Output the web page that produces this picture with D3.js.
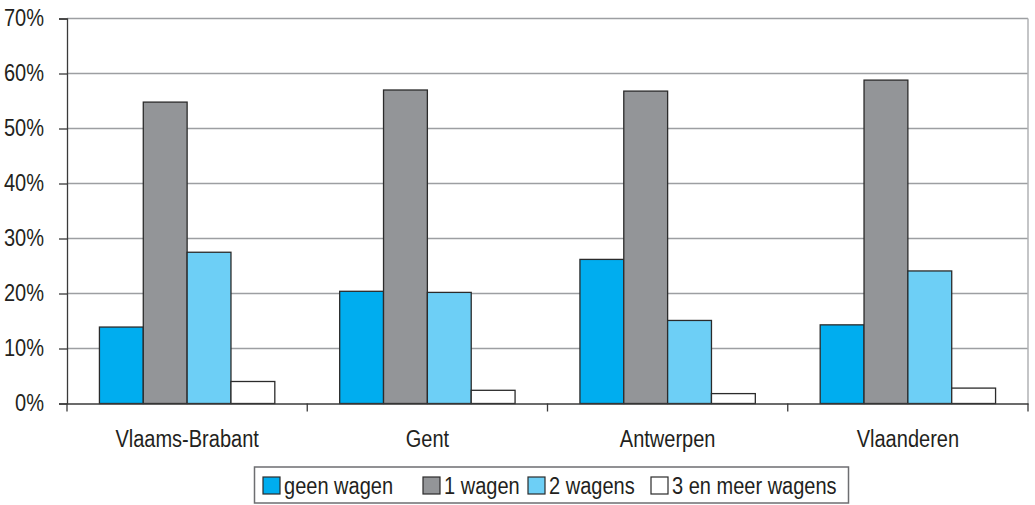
<!DOCTYPE html>
<html>
<head>
<meta charset="utf-8">
<script src="https://cdn.jsdelivr.net/npm/d3@7"></script>
<style>
  html, body { margin: 0; padding: 0; background: #fff; }
  svg { display: block; }
  text { font-family: 'Liberation Sans', Arial, sans-serif; fill: #231f20; }
</style>
</head>
<body>
<svg id="chart" width="1035" height="505"></svg>
<script>
const categories = ["Vlaams-Brabant", "Gent", "Antwerpen", "Vlaanderen"];
const seriesNames = ["geen wagen", "1 wagen", "2 wagens", "3 en meer wagens"];
const geenWagen = [13.9, 20.4, 26.2, 14.3];
const eenWagen = [54.8, 57.0, 56.8, 58.8];
const tweeWagens = [27.5, 20.2, 15.1, 24.1];
const drieMeer = [4.0, 2.4, 1.8, 2.8];
const seriesValues = [geenWagen, eenWagen, tweeWagens, drieMeer];
const colors = ["#00adef", "#939598", "#6dcff6", "#ffffff"];
const yTicks = [0, 10, 20, 30, 40, 50, 60, 70];

(function () {
const svg = d3.select("#chart");
const mLeft = 67, mRight = 1028, mTop = 18.5, mBottom = 403.5;
const narrow = 0.87;

function condense(sel) {
  sel.each(function () {
    const w = this.getComputedTextLength();
    d3.select(this).attr("textLength", w * narrow).attr("lengthAdjust", "spacingAndGlyphs");
  });
}

const x0 = d3.scaleBand().domain(categories).range([mLeft, mRight]).paddingInner(0).paddingOuter(0);
const bw = x0.bandwidth();
const x1 = d3.scaleBand().domain(seriesNames).range([bw * 0.135, bw * 0.865]).padding(0);
const y = d3.scaleLinear().domain([0, 70]).range([mBottom, mTop]);

// gridlines
svg.append("g").selectAll("line").data(yTicks.filter(d => d > 0)).join("line")
  .attr("x1", mLeft).attr("x2", mRight)
  .attr("y1", d => y(d)).attr("y2", d => y(d))
  .attr("stroke", "#9d9fa2").attr("stroke-width", 1.3);

// right border
svg.append("line").attr("x1", mRight).attr("x2", mRight).attr("y1", mTop).attr("y2", mBottom)
  .attr("stroke", "#b0b2b4").attr("stroke-width", 1.5);

// bars
const data = [];
categories.forEach((c, i) => seriesNames.forEach((s, j) => data.push({c, s, v: seriesValues[j][i], col: colors[j]})));
svg.append("g").selectAll("rect").data(data).join("rect")
  .attr("x", d => x0(d.c) + x1(d.s))
  .attr("width", x1.bandwidth())
  .attr("y", d => y(d.v))
  .attr("height", d => y(0) - y(d.v))
  .attr("fill", d => d.col)
  .attr("stroke", "#2b2b2b").attr("stroke-width", 1.3);

// y axis
const yAxis = d3.axisLeft(y).tickValues(yTicks).tickFormat(d => d + "%").tickSize(8).tickPadding(15);
const gy = svg.append("g").attr("transform", `translate(${mLeft},0)`).call(yAxis);
gy.attr("font-family", null).attr("font-size", null);
gy.select(".domain").attr("stroke", "#3a3a3a").attr("stroke-width", 1.3);
gy.selectAll(".tick line").attr("stroke", "#3a3a3a").attr("stroke-width", 1.3);
gy.selectAll(".tick text").attr("font-size", 23).attr("fill", "#231f20").call(condense);

// x axis
const xAxis = d3.axisBottom(x0).tickSize(0).tickPadding(0);
const gx = svg.append("g").attr("transform", `translate(0,${mBottom})`).call(xAxis);
gx.attr("font-family", null).attr("font-size", null);
gx.select(".domain").attr("stroke", "#3a3a3a").attr("stroke-width", 1.3);
gx.selectAll(".tick text").attr("font-size", 23).attr("fill", "#231f20").attr("y", 43).attr("dy", null).call(condense);
// boundary ticks
const bounds = categories.map(c => x0(c)).concat([mRight]);
gx.append("g").selectAll("line").data(bounds).join("line")
  .attr("x1", d => d).attr("x2", d => d).attr("y1", 0).attr("y2", 8)
  .attr("stroke", "#3a3a3a").attr("stroke-width", 1.3);

// legend
const lg = svg.append("g");
lg.append("rect").attr("x", 254.5).attr("y", 467).attr("width", 594).attr("height", 36)
  .attr("fill", "#fff").attr("stroke", "#6d6e71").attr("stroke-width", 1.5);
const legendX = [263, 423, 528, 651];
seriesNames.forEach((s, j) => {
  lg.append("rect").attr("x", legendX[j]).attr("y", 477).attr("width", 17).attr("height", 17)
    .attr("fill", colors[j]).attr("stroke", "#2b2b2b").attr("stroke-width", 1.2);
  lg.append("text").attr("x", legendX[j] + 21).attr("y", 494).attr("font-size", 23).text(s).call(condense);
});
})();
</script>
</body>
</html>
